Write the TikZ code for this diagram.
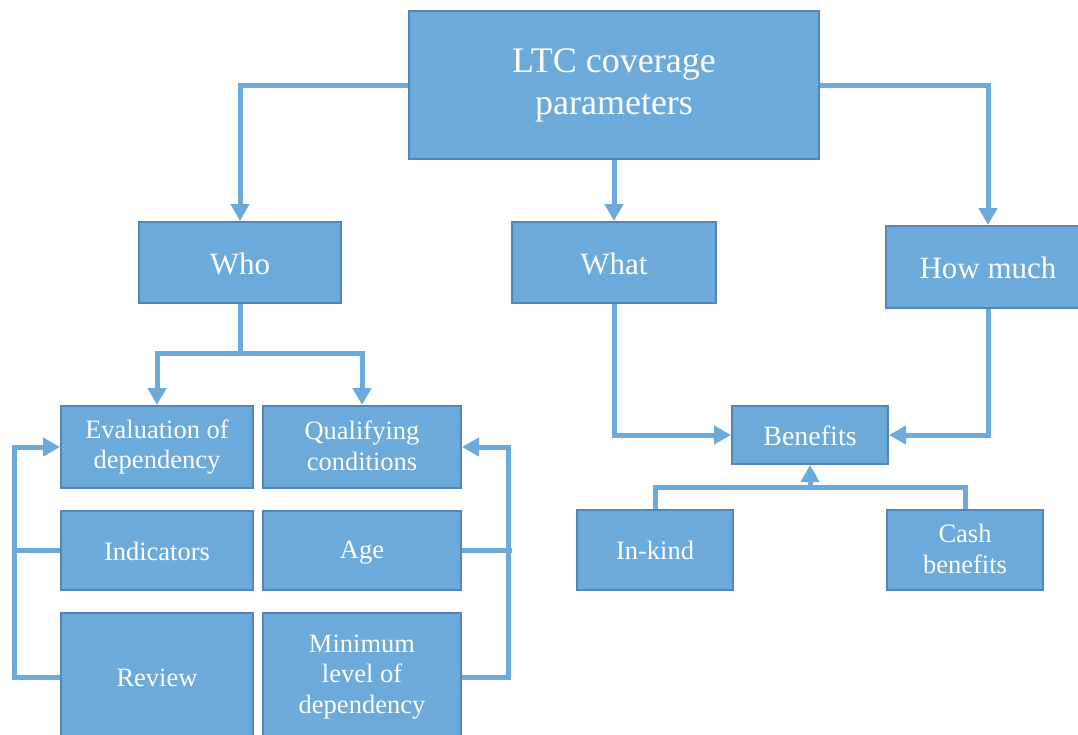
\documentclass[tikz,border=0pt]{standalone}
\usepackage{fontspec}
\setmainfont{Liberation Serif}
\usetikzlibrary{arrows.meta}
\definecolor{boxfill}{HTML}{6CAADB}
\definecolor{boxline}{HTML}{5485B8}
\definecolor{connc}{HTML}{6CAADB}
\newcommand\boxstrut{\rule[-0.1em]{0pt}{0.95em}}
\tikzset{
  box/.style={draw=boxline, line width=2pt, fill=boxfill, text=white, align=center, inner sep=0pt,
    execute at begin node=\boxstrut, execute at end node=\boxstrut},
  bigfont/.style={font=\fontsize{36}{42}\selectfont},
  midfont/.style={font=\fontsize{31}{36}\selectfont},
  smallfont/.style={font=\fontsize{26.5}{30.5}\selectfont},
  benfont/.style={font=\fontsize{28}{32}\selectfont},
  conn/.style={draw=connc, line width=5pt, line join=miter},
  arr/.style={-{Triangle[length=17pt,width=18pt]}}
}
\begin{document}
\begin{tikzpicture}[x=1pt,y=-1pt]
\useasboundingbox (0,0) rectangle (1078,734);
% nodes
\node[box,bigfont,minimum width=410pt,minimum height=148pt] (ltc) at (614,85) {LTC coverage\\parameters};
\node[box,midfont,minimum width=202pt,minimum height=81pt] (who) at (240,262.5) {Who};
\node[box,midfont,minimum width=204pt,minimum height=81pt] (what) at (614,262.5) {What};
\node[box,midfont,minimum width=204pt,minimum height=82pt] (how) at (988,267) {How much};
\node[box,smallfont,minimum width=192pt,minimum height=82pt] (eval) at (157,447) {Evaluation of\\dependency};
\node[box,smallfont,minimum width=198pt,minimum height=82pt] (qual) at (362,447) {Qualifying\\conditions};
\node[box,smallfont,minimum width=192pt,minimum height=79pt] (ind) at (157,550.5) {Indicators};
\node[box,smallfont,minimum width=198pt,minimum height=79pt] (age) at (362,550.5) {Age};
\node[box,smallfont,minimum width=192pt,minimum height=128pt] (rev) at (157,677) {Review};
\node[box,smallfont,minimum width=198pt,minimum height=128pt] (min) at (362,677) {Minimum\\level of\\dependency};
\node[box,benfont,minimum width=156pt,minimum height=58pt] (ben) at (810,435) {Benefits};
\node[box,smallfont,minimum width=156pt,minimum height=80pt] (ink) at (655,550) {In-kind};
\node[box,smallfont,minimum width=156pt,minimum height=80pt] (cash) at (965,550) {Cash\\benefits};
% coordinates
\coordinate (wbus) at (240,353);
\coordinate (bl) at (655,487);
\coordinate (br) at (965,487);
\coordinate (bbus) at (810,487);
\coordinate (lt) at (14.5,447);
\coordinate (rt) at (508.5,447);
% connectors
\draw[conn,arr] (ltc.west) -| (who.north);
\draw[conn,arr] (ltc.south) -- (what.north);
\draw[conn,arr] (ltc.east) -| (how.north);
\draw[conn] (who.south) -- (wbus);
\draw[conn,arr] (wbus) -| (eval.north);
\draw[conn,arr] (wbus) -| (qual.north);
\draw[conn,arr] (what.south) |- (ben.west);
\draw[conn,arr] (how.south) |- (ben.east);
\draw[conn] (ink.north) -- (bl) -- (br) -- (cash.north);
\draw[conn,arr] (bbus) -- (ben.south);
\draw[conn,arr] (rev.west) -| (lt) -- (eval.west);
\draw[conn] (ind.west) -- (ind.west -| lt);
\draw[conn,arr] (min.east) -| (rt) -- (qual.east);
\draw[conn] (age.east) -- ([xshift=3pt]age.east -| rt);
\end{tikzpicture}
\end{document}
